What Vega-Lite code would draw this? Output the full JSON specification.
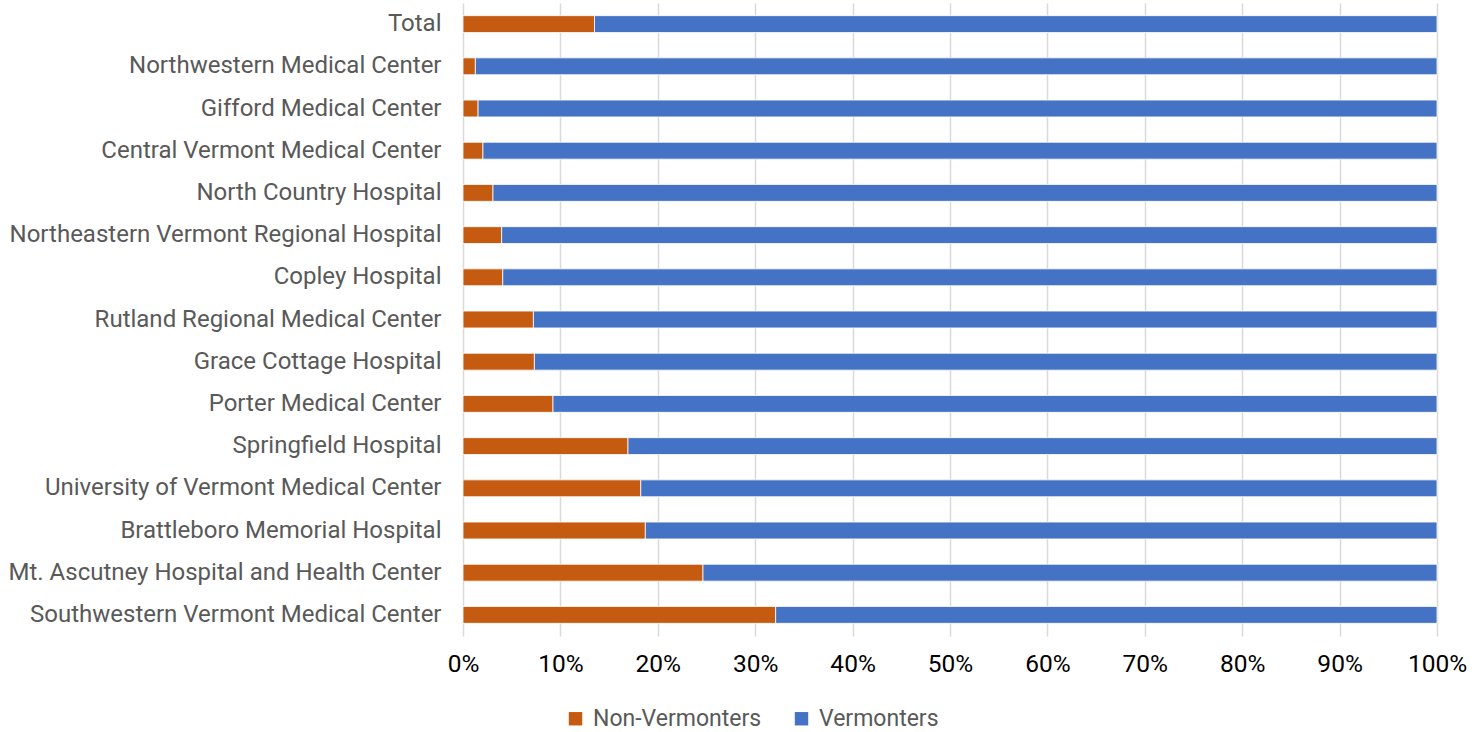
{
  "$schema": "https://vega.github.io/schema/vega-lite/v6.json",
  "width": 974,
  "height": 633,
  "autosize": "none",
  "padding": {"left": 463, "top": 3, "right": 37, "bottom": 96},
  "background": "white",
  "config": {
    "font": "Roboto",
    "view": {"stroke": null}
  },
  "data": {
    "values": [
      {"hospital": "Total", "group": "Non-Vermonters", "share": 0.135},
      {"hospital": "Total", "group": "Vermonters", "share": 0.865},
      {"hospital": "Northwestern Medical Center", "group": "Non-Vermonters", "share": 0.0127},
      {"hospital": "Northwestern Medical Center", "group": "Vermonters", "share": 0.9873},
      {"hospital": "Gifford Medical Center", "group": "Non-Vermonters", "share": 0.0155},
      {"hospital": "Gifford Medical Center", "group": "Vermonters", "share": 0.9845},
      {"hospital": "Central Vermont Medical Center", "group": "Non-Vermonters", "share": 0.0205},
      {"hospital": "Central Vermont Medical Center", "group": "Vermonters", "share": 0.9795},
      {"hospital": "North Country Hospital", "group": "Non-Vermonters", "share": 0.0308},
      {"hospital": "North Country Hospital", "group": "Vermonters", "share": 0.9692},
      {"hospital": "Northeastern Vermont Regional Hospital", "group": "Non-Vermonters", "share": 0.0397},
      {"hospital": "Northeastern Vermont Regional Hospital", "group": "Vermonters", "share": 0.9603},
      {"hospital": "Copley Hospital", "group": "Non-Vermonters", "share": 0.0408},
      {"hospital": "Copley Hospital", "group": "Vermonters", "share": 0.9592},
      {"hospital": "Rutland Regional Medical Center", "group": "Non-Vermonters", "share": 0.0723},
      {"hospital": "Rutland Regional Medical Center", "group": "Vermonters", "share": 0.9277},
      {"hospital": "Grace Cottage Hospital", "group": "Non-Vermonters", "share": 0.0733},
      {"hospital": "Grace Cottage Hospital", "group": "Vermonters", "share": 0.9267},
      {"hospital": "Porter Medical Center", "group": "Non-Vermonters", "share": 0.0924},
      {"hospital": "Porter Medical Center", "group": "Vermonters", "share": 0.9076},
      {"hospital": "Springfield Hospital", "group": "Non-Vermonters", "share": 0.1694},
      {"hospital": "Springfield Hospital", "group": "Vermonters", "share": 0.8306},
      {"hospital": "University of Vermont Medical Center", "group": "Non-Vermonters", "share": 0.1825},
      {"hospital": "University of Vermont Medical Center", "group": "Vermonters", "share": 0.8175},
      {"hospital": "Brattleboro Memorial Hospital", "group": "Non-Vermonters", "share": 0.1872},
      {"hospital": "Brattleboro Memorial Hospital", "group": "Vermonters", "share": 0.8128},
      {"hospital": "Mt. Ascutney Hospital and Health Center", "group": "Non-Vermonters", "share": 0.2464},
      {"hospital": "Mt. Ascutney Hospital and Health Center", "group": "Vermonters", "share": 0.7536},
      {"hospital": "Southwestern Vermont Medical Center", "group": "Non-Vermonters", "share": 0.321},
      {"hospital": "Southwestern Vermont Medical Center", "group": "Vermonters", "share": 0.679}
    ]
  },
  "mark": {"type": "bar", "stroke": "white", "strokeWidth": 0.8},
  "encoding": {
    "y": {
      "field": "hospital",
      "type": "nominal",
      "title": null,
      "sort": [
        "Total",
        "Northwestern Medical Center",
        "Gifford Medical Center",
        "Central Vermont Medical Center",
        "North Country Hospital",
        "Northeastern Vermont Regional Hospital",
        "Copley Hospital",
        "Rutland Regional Medical Center",
        "Grace Cottage Hospital",
        "Porter Medical Center",
        "Springfield Hospital",
        "University of Vermont Medical Center",
        "Brattleboro Memorial Hospital",
        "Mt. Ascutney Hospital and Health Center",
        "Southwestern Vermont Medical Center"
      ],
      "scale": {"paddingInner": 0.6, "paddingOuter": 0.3},
      "axis": {
        "domain": false,
        "ticks": false,
        "labelFontSize": 24,
        "labelColor": "#595959",
        "labelPadding": 22,
        "labelLimit": 500
      }
    },
    "x": {
      "field": "share",
      "type": "quantitative",
      "stack": "normalize",
      "title": null,
      "scale": {"domain": [0, 1]},
      "axis": {
        "format": "%",
        "values": [0, 0.1, 0.2, 0.3, 0.4, 0.5, 0.6, 0.7, 0.8, 0.9, 1],
        "labelOverlap": false,
        "domain": false,
        "ticks": false,
        "grid": true,
        "gridColor": "#d9d9d9",
        "gridWidth": 1.5,
        "labelFontSize": 24.5,
        "labelColor": "black",
        "labelPadding": 16,
        "labelFlush": false
      }
    },
    "color": {
      "field": "group",
      "type": "nominal",
      "title": null,
      "scale": {
        "domain": ["Non-Vermonters", "Vermonters"],
        "range": ["#C55A11", "#4472C4"]
      },
      "legend": {
        "orient": "none",
        "legendX": 101,
        "legendY": 704,
        "direction": "horizontal",
        "symbolType": "square",
        "symbolSize": 180,
        "symbolStrokeWidth": 0,
        "labelFontSize": 23,
        "labelLimit": 300,
        "labelColor": "#595959",
        "labelOffset": 6,
        "columnPadding": 28
      }
    }
  }
}
